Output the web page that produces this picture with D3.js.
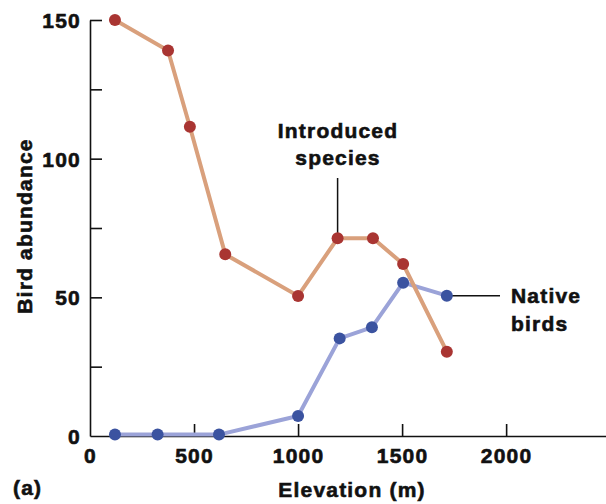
<!DOCTYPE html>
<html><head><meta charset="utf-8">
<script src="https://cdn.jsdelivr.net/npm/d3@7"></script>
<style>
body{margin:0;background:#fff;}
text{font-family:"Liberation Sans",Arial,Helvetica,sans-serif;font-weight:bold;fill:#111;font-size:21px;letter-spacing:1.2px;stroke:#111;stroke-width:0.6px;}
</style></head>
<body>
<svg id="c" width="606" height="504"></svg>
<script>
const introducedElev = [120, 375, 480, 650, 1000, 1190, 1360, 1505, 1715];
const introducedAbund = [150, 139, 111.5, 65.5, 50.5, 71.3, 71.3, 62, 30.4];
const nativeElev = [120, 325, 620, 1000, 1200, 1355, 1505, 1715];
const nativeAbund = [0.5, 0.5, 0.5, 7.2, 35.2, 39.2, 55.3, 50.6];
const xTickValues = [0, 500, 1000, 1500, 2000];
const yMajorTicks = [0, 50, 100, 150];
const yMinorTicks = [25, 75, 125];

const svg = d3.select("#c");
const x = d3.scaleLinear().domain([0, 2480]).range([90, 606]);
const y = d3.scaleLinear().domain([0, 150]).range([436, 20]);

const axisCol = "#111";
// Y axis
const yAxis = d3.axisLeft(y).tickValues(yMajorTicks.concat(yMinorTicks)).tickSizeInner(-12).tickSizeOuter(0)
  .tickFormat(d => yMajorTicks.includes(d) ? d : "");
const gy = svg.append("g").attr("transform", "translate(90,0)").call(yAxis);
gy.attr("font-size", null).attr("font-family", null);
gy.selectAll("text").attr("x", -9).attr("dy", "0.36em");
gy.select(".domain").attr("stroke", axisCol).attr("stroke-width", 1.6);
gy.selectAll(".tick line").attr("stroke", axisCol).attr("stroke-width", 1.6);
// X axis
const xAxis = d3.axisBottom(x).tickValues(xTickValues).tickSizeInner(-12).tickSizeOuter(0).tickFormat(d => d);
const gx = svg.append("g").attr("transform", "translate(0,436)").call(xAxis);
gx.attr("font-size", null).attr("font-family", null);
gx.selectAll("text").attr("y", 12).attr("dy", "0.71em");
gx.select(".domain").attr("stroke", axisCol).attr("stroke-width", 1.6);
gx.selectAll(".tick line").attr("stroke", axisCol).attr("stroke-width", 1.6);
gx.selectAll(".tick").filter(d => d === 0).select("line").remove();
gy.selectAll(".tick").filter(d => d === 0).select("line").remove();

// Axis titles
svg.append("text").attr("transform", "translate(32,226) rotate(-90)").attr("text-anchor", "middle")
  .text("Bird abundance");
svg.append("text").attr("x", 352).attr("y", 497).attr("text-anchor", "middle")
  .text("Elevation (m)");
svg.append("text").attr("x", 13).attr("y", 495).text("(a)");

const line = d3.line().x(d => x(d[0])).y(d => y(d[1]));
const nat = nativeElev.map((e, i) => [e, nativeAbund[i]]);
const intr = introducedElev.map((e, i) => [e, introducedAbund[i]]);

svg.append("path").datum(nat).attr("d", line).attr("fill", "none").attr("stroke", "#9ba3d8").attr("stroke-width", 4);
svg.append("path").datum(intr).attr("d", line).attr("fill", "none").attr("stroke", "#d9a07c").attr("stroke-width", 4);

// Leader lines
svg.append("line").attr("x1", x(introducedElev[5])).attr("x2", x(introducedElev[5]))
  .attr("y1", 178).attr("y2", y(introducedAbund[5])).attr("stroke", "#111").attr("stroke-width", 1.5);
svg.append("line").attr("x1", x(nativeElev[7])).attr("x2", 500)
  .attr("y1", y(nativeAbund[7])).attr("y2", y(nativeAbund[7])).attr("stroke", "#111").attr("stroke-width", 1.5);

svg.append("g").selectAll("circle").data(nat).join("circle")
  .attr("cx", d => x(d[0])).attr("cy", d => y(d[1])).attr("r", 6).attr("fill", "#3b53a0");
svg.append("g").selectAll("circle").data(intr).join("circle")
  .attr("cx", d => x(d[0])).attr("cy", d => y(d[1])).attr("r", 6).attr("fill", "#a93532");

// Labels
svg.append("text").attr("x", 338).attr("y", 138).attr("text-anchor", "middle").text("Introduced");
svg.append("text").attr("x", 338).attr("y", 165).attr("text-anchor", "middle").text("species");
svg.append("text").attr("x", 511).attr("y", 303).text("Native");
svg.append("text").attr("x", 511).attr("y", 331).text("birds");
</script>
</body></html>
